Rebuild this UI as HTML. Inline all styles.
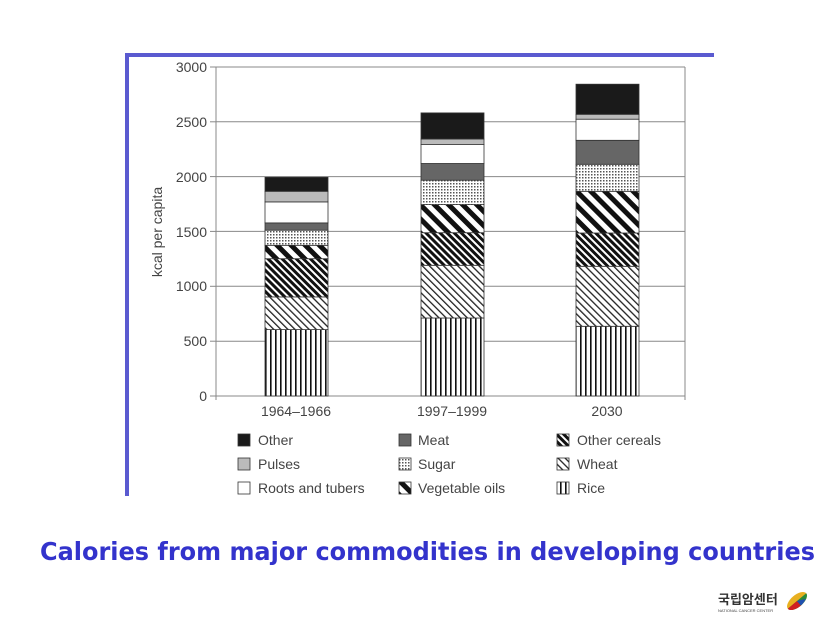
<!DOCTYPE html>
<html><head><meta charset="utf-8"><style>
body{margin:0;background:#fff;width:840px;height:629px;overflow:hidden;font-family:"Liberation Sans",sans-serif}
</style></head><body>
<svg width="840" height="629" xmlns="http://www.w3.org/2000/svg" style="position:absolute;left:0;top:0">
<defs>
<pattern id="rice" width="5" height="5" patternUnits="userSpaceOnUse"><rect width="5" height="5" fill="#fff"/><rect x="0" width="1.6" height="5" fill="#111"/></pattern>
<pattern id="wheat" width="5" height="5" patternUnits="userSpaceOnUse" patternTransform="rotate(-45)"><rect width="5" height="5" fill="#fff"/><rect width="1.3" height="5" fill="#222"/></pattern>
<pattern id="cereal" width="5" height="5" patternUnits="userSpaceOnUse" patternTransform="rotate(-45)"><rect width="5" height="5" fill="#fff"/><rect width="3" height="5" fill="#111"/></pattern>
<pattern id="veg" width="10" height="10" patternUnits="userSpaceOnUse" patternTransform="rotate(-45)"><rect width="10" height="10" fill="#fff"/><rect width="5" height="10" fill="#111"/></pattern>
<pattern id="sugar" width="3" height="3" patternUnits="userSpaceOnUse"><rect width="3" height="3" fill="#fff"/><rect width="1.5" height="1.5" fill="#555"/></pattern>
</defs>
<rect x="125" y="53" width="589" height="4" fill="#5a5ad0"/>
<rect x="125" y="53" width="4" height="443" fill="#5a5ad0"/>
<g stroke="#888" stroke-width="1">
<line x1="216" y1="67" x2="685" y2="67"/><line x1="216" y1="121.8" x2="685" y2="121.8"/><line x1="216" y1="176.6" x2="685" y2="176.6"/><line x1="216" y1="231.4" x2="685" y2="231.4"/><line x1="216" y1="286.3" x2="685" y2="286.3"/><line x1="216" y1="341.2" x2="685" y2="341.2"/>
<line x1="216" y1="67" x2="216" y2="400"/><line x1="685" y1="67" x2="685" y2="400"/><line x1="210" y1="396" x2="685" y2="396"/>
<line x1="210" y1="67" x2="216" y2="67"/><line x1="210" y1="121.8" x2="216" y2="121.8"/><line x1="210" y1="176.6" x2="216" y2="176.6"/><line x1="210" y1="231.4" x2="216" y2="231.4"/><line x1="210" y1="286.3" x2="216" y2="286.3"/><line x1="210" y1="341.2" x2="216" y2="341.2"/>
</g>
<g font-size="14" fill="#444" text-anchor="end">
<text x="207" y="72">3000</text><text x="207" y="127">2500</text><text x="207" y="182">2000</text><text x="207" y="237">1500</text><text x="207" y="291">1000</text><text x="207" y="346">500</text><text x="207" y="401">0</text>
</g>
<text transform="translate(162,232) rotate(-90)" font-size="14" fill="#444" text-anchor="middle">kcal per capita</text>
<g font-size="14" fill="#444" text-anchor="middle">
<text x="296" y="416">1964–1966</text><text x="452" y="416">1997–1999</text><text x="607" y="416">2030</text>
</g>
<g stroke="#333" stroke-width="0.8">
<rect x="265" y="329.6" width="63" height="66.4" fill="url(#rice)"/>
<rect x="265" y="296.9" width="63" height="32.7" fill="url(#wheat)"/>
<rect x="265" y="258.7" width="63" height="38.2" fill="url(#cereal)"/>
<rect x="265" y="245.3" width="63" height="13.4" fill="url(#veg)"/>
<rect x="265" y="230.2" width="63" height="15.1" fill="url(#sugar)"/>
<rect x="265" y="222.9" width="63" height="7.3" fill="#666"/>
<rect x="265" y="201.9" width="63" height="21" fill="#fff"/>
<rect x="265" y="191.3" width="63" height="10.6" fill="#bbb"/>
<rect x="265" y="177.3" width="63" height="14" fill="#1a1a1a"/>
<rect x="421" y="318" width="63" height="78" fill="url(#rice)"/>
<rect x="421" y="265.3" width="63" height="52.7" fill="url(#wheat)"/>
<rect x="421" y="232.7" width="63" height="32.6" fill="url(#cereal)"/>
<rect x="421" y="204.6" width="63" height="28.1" fill="url(#veg)"/>
<rect x="421" y="180.2" width="63" height="24.4" fill="url(#sugar)"/>
<rect x="421" y="163.5" width="63" height="16.7" fill="#666"/>
<rect x="421" y="144.6" width="63" height="18.9" fill="#fff"/>
<rect x="421" y="139" width="63" height="5.6" fill="#bbb"/>
<rect x="421" y="112.9" width="63" height="26.1" fill="#1a1a1a"/>
<rect x="576" y="326.3" width="63" height="69.7" fill="url(#rice)"/>
<rect x="576" y="266.3" width="63" height="60" fill="url(#wheat)"/>
<rect x="576" y="233" width="63" height="33.3" fill="url(#cereal)"/>
<rect x="576" y="191.3" width="63" height="41.7" fill="url(#veg)"/>
<rect x="576" y="164.3" width="63" height="27" fill="url(#sugar)"/>
<rect x="576" y="140.3" width="63" height="24" fill="#666"/>
<rect x="576" y="119.2" width="63" height="21.1" fill="#fff"/>
<rect x="576" y="114.3" width="63" height="4.9" fill="#bbb"/>
<rect x="576" y="84.2" width="63" height="30.1" fill="#1a1a1a"/>
</g>
<g stroke="#333" stroke-width="0.8">
<rect x="238" y="434" width="12" height="12" fill="#1a1a1a"/>
<rect x="238" y="458" width="12" height="12" fill="#bbb"/>
<rect x="238" y="482" width="12" height="12" fill="#fff"/>
<rect x="399" y="434" width="12" height="12" fill="#666"/>
<rect x="399" y="458" width="12" height="12" fill="url(#sugar)"/>
<rect x="399" y="482" width="12" height="12" fill="url(#veg)"/>
<rect x="557" y="434" width="12" height="12" fill="url(#cereal)"/>
<rect x="557" y="458" width="12" height="12" fill="url(#wheat)"/>
<rect x="557" y="482" width="12" height="12" fill="url(#rice)"/>
</g>
<g font-size="14" fill="#444">
<text x="258" y="445">Other</text><text x="258" y="469">Pulses</text><text x="258" y="493">Roots and tubers</text>
<text x="418" y="445">Meat</text><text x="418" y="469">Sugar</text><text x="418" y="493">Vegetable oils</text>
<text x="577" y="445">Other cereals</text><text x="577" y="469">Wheat</text><text x="577" y="493">Rice</text>
</g>
<text x="40" y="560" font-family="'DejaVu Sans',sans-serif" font-size="25" font-weight="bold" fill="#3333cc" textLength="775" lengthAdjust="spacingAndGlyphs">Calories from major commodities in developing countries</text>
<text x="718" y="604" font-family="'Noto Sans CJK KR',sans-serif" font-size="13" font-weight="bold" fill="#333">국립암센터</text>
<text x="718" y="612" font-size="4" fill="#444">NATIONAL CANCER CENTER</text>
<g transform="translate(797,601) rotate(-40)">
<ellipse cx="0" cy="0" rx="12" ry="6" fill="#e8b020"/>
<path d="M-12,0 A12,6 0 0 0 12,0 Z" fill="#2a8a3a"/>
<path d="M-12,0 A12,6 0 0 0 0,6 L0,0Z" fill="#d02020"/>
<path d="M0,6 A12,6 0 0 0 8,4 L0,0Z" fill="#2050b0"/>
</g>
</svg>
</body></html>
